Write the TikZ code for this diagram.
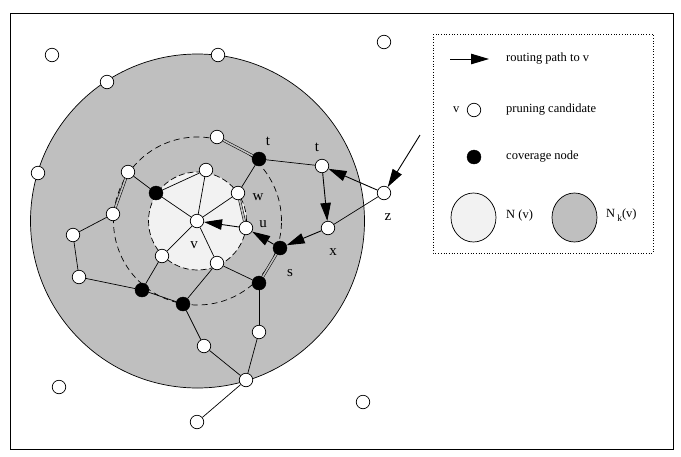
\documentclass[tikz,border=0pt]{standalone}
\usepackage{fontspec}
\setmainfont{Liberation Serif}
\usetikzlibrary{arrows.meta}
\definecolor{outergray}{HTML}{BFBFBF}
\definecolor{innergray}{HTML}{F2F2F2}
\begin{document}
\begin{tikzpicture}[x=1pt,y=-1pt,
 wn/.style={circle,draw,fill=white,minimum size=13.5pt,inner sep=0pt,line width=0.7pt},
 bn/.style={circle,draw,fill=black,minimum size=14pt,inner sep=0pt},
 edge/.style={line width=0.7pt},
 dbl/.style={double=outergray,double distance=1.6pt,line width=0.55pt},
 route/.style={line width=0.9pt,-{Triangle[length=18pt,width=10.5pt]}},
 lbl/.style={font=\fontsize{15}{17}\selectfont,inner sep=0pt},
 leg/.style={font=\fontsize{12.5}{14}\selectfont,anchor=west,inner sep=0pt}]
\useasboundingbox (0,0) rectangle (681,456);
\draw[line width=0.8pt] (10,13) rectangle (673,449);
% regions
\draw[fill=outergray,line width=0.7pt] (197.5,221) circle[radius=167pt];
\draw[dash pattern=on 6pt off 4pt,line width=0.7pt] (197.5,221) circle[radius=84pt];
\draw[fill=innergray,dash pattern=on 6pt off 3pt,line width=0.7pt] (197.5,221) circle[radius=49pt];
% legend box
\draw[dotted,line width=0.7pt] (433,34) rectangle (653,253);
% nodes outside
\node[wn] (o1) at (52,55) {};
\node[wn] (o2) at (384,42) {};
\node[wn] (o3) at (59,387) {};
\node[wn] (o4) at (363,402) {};
\node[wn] (o5) at (197,422) {};
% on big circle
\node[wn] (c1) at (218,55) {};
\node[wn] (c2) at (107,82) {};
\node[wn] (c3) at (38,173) {};
\node[wn] (c4) at (246,380) {};
% inner
\node[wn] (a) at (217,137) {};
\node[bn] (tb) at (259,159) {};
\node[wn] (tw) at (322,166) {};
\node[wn] (b) at (128,172) {};
\node[wn] (c) at (206,170) {};
\node[bn] (d) at (156,193) {};
\node[wn] (w) at (238,193) {};
\node[wn] (e) at (113,214) {};
\node[wn] (v) at (197,221) {};
\node[wn] (u) at (246,228) {};
\node[bn] (s) at (280,248) {};
\node[wn] (f) at (162,256) {};
\node[wn] (g) at (217,263) {};
\node[bn] (h) at (259,283) {};
\node[bn] (i) at (142,290) {};
\node[bn] (j) at (183,304) {};
\node[wn] (k) at (73,235) {};
\node[wn] (l) at (79,277) {};
\node[wn] (m) at (204,346) {};
\node[wn] (n) at (259,332) {};
\node[wn] (z) at (384,193) {};
\node[wn] (x) at (328,228) {};
\coordinate (zin) at (420,135);
% edges
\draw[dbl] (a) -- (tb);
\draw[dbl] (b) -- (e);
\draw[dbl] (w) -- (u);
\draw[dbl] (s) -- (h);
\draw[edge] (tb) -- (tw);
\draw[edge] (tb) -- (w);
\draw[edge] (b) -- (d);
\draw[edge] (e) -- (k);
\draw[edge] (k) -- (l);
\draw[edge] (l) -- (i);
\draw[edge] (d) -- (c);
\draw[edge] (d) -- (v);
\draw[edge] (c) -- (v);
\draw[edge] (w) -- (v);
\draw[edge] (v) -- (f);
\draw[edge] (v) -- (g);
\draw[edge] (f) -- (i);
\draw[edge] (g) -- (j);
\draw[edge] (g) -- (h);
\draw[edge] (i) -- (j);
\draw[edge] (j) -- (m);
\draw[edge] (m) -- (c4);
\draw[edge] (h) -- (n);
\draw[edge] (n) -- (c4);
\draw[edge] (c4) -- (o5);
\draw[edge] (z) -- (x);
% routing path
\draw[route] (zin) -- (z);
\draw[route] (z) -- (tw);
\draw[route] (tw) -- (x);
\draw[route] (x) -- (s);
\draw[route] (s) -- (u);
\draw[route] (u) -- (v);
% labels
\node[lbl] (lt1) at (268,141) {t};
\node[lbl] (lt2) at (317,147) {t};
\node[lbl] (lw) at (258,197) {w};
\node[lbl] (lu) at (263,224) {u};
\node[lbl] (lv) at (194,245) {v};
\node[lbl] (ls) at (290,273) {s};
\node[lbl] (lx) at (333,252) {x};
\node[lbl] (lz) at (388,217) {z};
% legend
\coordinate (la1) at (450,59);
\coordinate (la2) at (489,59);
\draw[route] (la1) -- (la2);
\node[leg] (t1) at (506,59) {routing path to v};
\node[leg] (lvv) at (453,110) {v};
\node[wn] (lc) at (474,110) {};
\node[leg] (t2) at (506,110) {pruning candidate};
\node[bn] (lb) at (474,157) {};
\node[leg] (t3) at (506,157) {coverage node};
\draw[fill=innergray,line width=0.7pt] (473.5,217.5) ellipse[x radius=22.5pt,y radius=24.5pt];
\draw[fill=outergray,line width=0.7pt] (574.5,217.5) ellipse[x radius=22.5pt,y radius=24.5pt];
\node[leg] (t4) at (506,215) {N (v)};
\node[leg] (t5) at (606,215) {N\,\raisebox{-4pt}{\fontsize{9.5}{9.5}\selectfont k}(v)};
\end{tikzpicture}
\end{document}
